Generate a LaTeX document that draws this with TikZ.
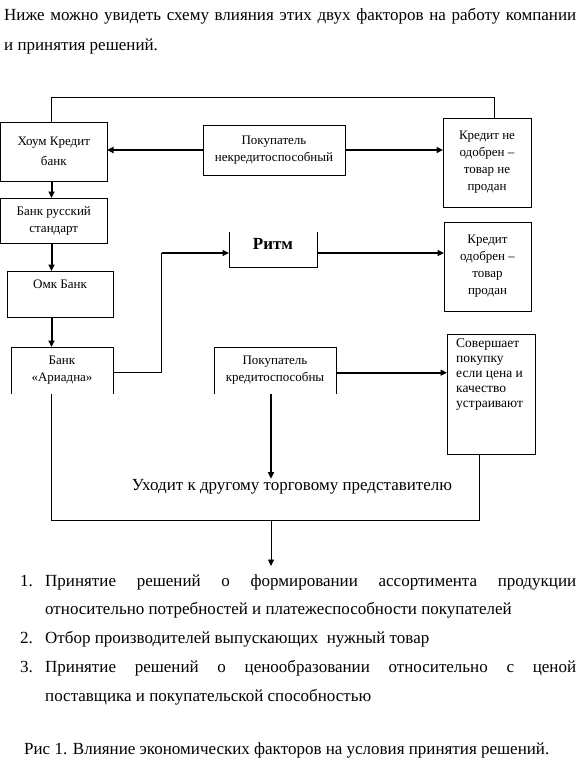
\documentclass[tikz,border=0pt]{standalone}
\usepackage{fontspec}
\setmainfont{Liberation Serif}
\usetikzlibrary{arrows.meta}
\newcommand{\mainsz}{\fontsize{17}{20}\selectfont}
\newcommand{\boxsz}{\fontsize{13}{17}\selectfont}
\begin{document}
\begin{tikzpicture}[x=1pt,y=-1pt,
  thinln/.style={line width=0.8pt},
  thkln/.style={line width=2pt},
  tip/.style={-{Triangle[length=6.5pt,width=6pt]}},
  frame/.style={draw, line width=0.8pt},
  bx/.style={inner sep=0pt, outer sep=0pt, anchor=north west, font=\boxsz, align=center},
  toptext/.style={anchor=north, inner sep=0pt, font=\boxsz, align=center},
  plain/.style={anchor=base west, inner sep=0pt, font=\mainsz}]
\useasboundingbox[fill=white] (0,0) rectangle (576,758);

% top paragraph
\node[plain] (p1) at (4,20) {\makebox[572pt][s]{Ниже можно увидеть схему влияния этих двух факторов на работу компании}};
\node[plain] (p2) at (4,50) {и принятия решений.};

% boxes
\node[bx, frame, minimum width=106.5pt, minimum height=59pt] (hkb) at (0.5,122) {Хоум Кредит\\[3pt]банк};
\node[bx, frame, minimum width=142pt, minimum height=50pt] (pn) at (203,125) {Покупатель\\некредитоспособный};
\node[bx, frame, minimum width=88pt, minimum height=89pt] (kno) at (443,118) {Кредит не\\одобрен –\\товар не\\продан};
\node[bx, frame, minimum width=106.5pt, minimum height=45pt] (brs) at (0.5,198) {Банк русский\\стандарт};
\node[bx, frame, minimum width=106pt, minimum height=46pt] (omk) at (7,271) {};
\node[toptext] at ([yshift=-9pt]omk.north) {Омк Банк};
\node[bx, minimum width=88pt, minimum height=35pt] (ritm) at (229,232) {};
\node[anchor=center, inner sep=0pt, font=\fontsize{17}{20}\selectfont\bfseries] at ([yshift=6pt]ritm.center) {Ритм};
\draw[thinln] (ritm.north west) -- (ritm.south west) -- (ritm.south east) -- (ritm.north east);
\node[bx, frame, minimum width=87pt, minimum height=89pt] (ko) at (444,222) {Кредит\\одобрен –\\товар\\продан};
\node[bx, minimum width=102pt, minimum height=47pt] (ar) at (11,347) {Банк\\«Ариадна»};
\draw[thinln] (ar.south west) -- (ar.north west) -- (ar.north east) -- (ar.south east);
\node[bx, minimum width=122pt, minimum height=47pt] (pk) at (214,347) {Покупатель\\кредитоспособны};
\draw[thinln] (pk.south west) -- (pk.north west) -- (pk.north east) -- (pk.south east);
\node[bx, frame, minimum width=88pt, minimum height=120pt] (sov) at (447,334) {};
\node[anchor=north west, inner sep=0pt, font=\fontsize{13.5}{15}\selectfont, align=left] at ([xshift=9pt,yshift=-4pt]sov.north west) {Совершает\\покупку\\если цена и\\качество\\устраивают};

\node[anchor=base, inner sep=0pt, font=\mainsz] (ux) at (292,490) {Уходит к другому торговому представителю};

% coordinates
\coordinate (tl) at (51,97);
\coordinate (tr) at (494,97);
\coordinate (colL) at (51.5,0);
\coordinate (jr) at (161.5,372.7);
\coordinate (jt) at (161.5,253);
\coordinate (colM) at (271,0);
\coordinate (bl) at (51.5,520);
\coordinate (br) at (479.3,520);
\coordinate (bm) at (271,520);
\coordinate (bend) at (271,566);

% connectors
\draw[thinln] (tl |- hkb.north) -- (tl) -- (tr) -- (tr |- kno.north);
\draw[thkln, tip] (pn.west) -- (pn.west -| hkb.east);
\draw[thkln, tip] (pn.east) -- (pn.east -| kno.west);
\draw[thkln, tip] (colL |- hkb.south) -- (colL |- brs.north);
\draw[thkln, tip] (colL |- brs.south) -- (colL |- omk.north);
\draw[thkln, tip] (colL |- omk.south) -- (colL |- ar.north);
\draw[thinln] (jr -| ar.east) -- (jr) -- (jt);
\draw[thkln, tip] (jt) -- (jt -| ritm.west);
\draw[thkln, tip] (jt -| ritm.east) -- (jt -| ko.west);
\draw[thkln, tip] (jr -| pk.east) -- (jr -| sov.west);
\draw[thkln, tip] (colM |- pk.south) -- (colM |- ux.north);
\draw[thinln] (colL |- ar.south) -- (bl) -- (br) -- (br |- sov.south);
\draw[thinln, tip] (bm) -- (bend);

% list
\node[plain] (n1) at (20,586) {1.};
\node[plain] (l1a) at (45,586) {\makebox[531pt][s]{Принятие решений о формировании ассортимента продукции}};
\node[plain] (l1b) at (45,614) {относительно потребностей и платежеспособности покупателей};
\node[plain] (n2) at (20,643) {2.};
\node[plain] (l2) at (45,643) {Отбор производителей выпускающих\ \ нужный товар};
\node[plain] (n3) at (20,672) {3.};
\node[plain] (l3a) at (45,672) {\makebox[531pt][s]{Принятие решений о ценообразовании относительно с ценой}};
\node[plain] (l3b) at (45,701) {поставщика и покупательской способностью};

\node[plain] (cap) at (24,754) {Рис 1. Влияние экономических факторов на условия принятия решений.};
\end{tikzpicture}
\end{document}
